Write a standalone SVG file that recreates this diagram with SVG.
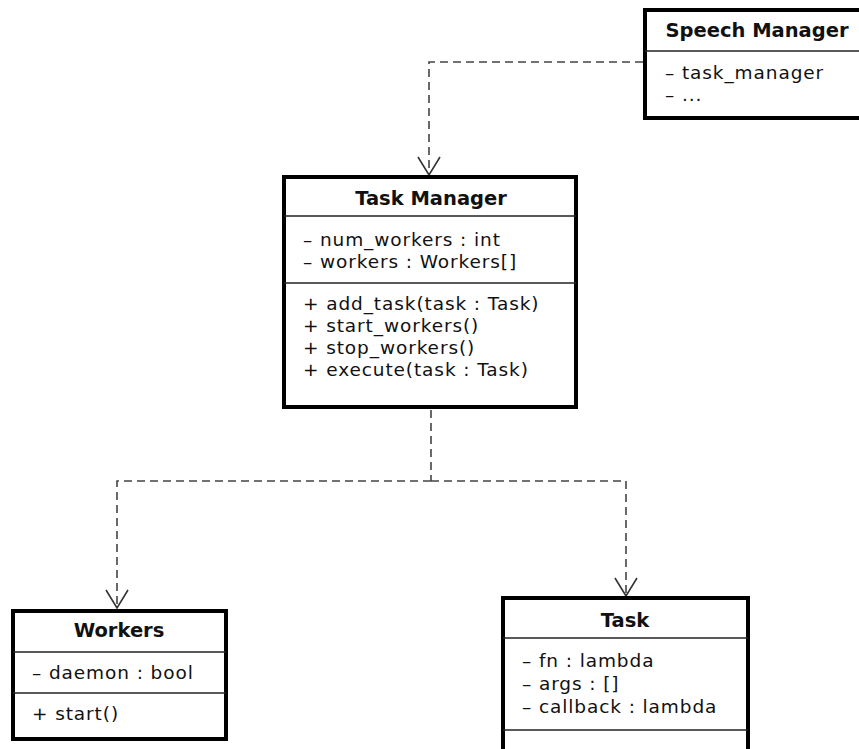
<svg xmlns="http://www.w3.org/2000/svg" width="859" height="749" viewBox="0 0 859 749">
<defs>
<style>
.box{fill:#fff;stroke:#000;stroke-width:4}
.div{stroke:#222;stroke-width:1.5}
.title{font-family:"DejaVu Sans",Verdana,sans-serif;font-weight:bold;font-size:19.5px;fill:#111;text-anchor:middle}
.txt{font-family:"DejaVu Sans",Verdana,sans-serif;font-size:18.5px;letter-spacing:0.9px;fill:#111}
.dep{fill:none;stroke:#444;stroke-width:1.6;stroke-dasharray:8 5}
</style>
<marker id="open" markerUnits="userSpaceOnUse" viewBox="-20 -13 22 26" refX="0" refY="0" markerWidth="22" markerHeight="26" orient="auto">
<path d="M-18,-11 L0,0 L-18,11" fill="none" stroke="#333" stroke-width="1.6"/>
</marker>
</defs>
<rect width="859" height="749" fill="#fff"/>
<g id="connectors">
<path class="dep" d="M643,62 H429 V175" marker-end="url(#open)"/>
<path class="dep" d="M431,410 V481"/>
<path class="dep" d="M431,481 H117 V608" marker-end="url(#open)"/>
<path class="dep" d="M431,481 H626 V596" marker-end="url(#open)"/>
</g>
<g id="speech-manager">
<rect class="box" x="645" y="10" width="230" height="108"/>
<line class="div" x1="645" y1="51" x2="875" y2="51"/>
<text class="title" x="757" y="37">Speech Manager</text>
<text class="txt" x="665" y="79">– task_manager</text>
<text class="txt" x="665" y="101">– ...</text>
</g>
<g id="task-manager">
<rect class="box" x="284" y="177" width="292" height="230"/>
<line class="div" x1="284" y1="216" x2="576" y2="216"/>
<line class="div" x1="284" y1="283" x2="576" y2="283"/>
<text class="title" x="431" y="205">Task Manager</text>
<text class="txt" x="303" y="246">– num_workers : int</text>
<text class="txt" x="303" y="268">– workers : Workers[]</text>
<text class="txt" x="303" y="310">+ add_task(task : Task)</text>
<text class="txt" x="303" y="332">+ start_workers()</text>
<text class="txt" x="303" y="354">+ stop_workers()</text>
<text class="txt" x="303" y="376">+ execute(task : Task)</text>
</g>
<g id="workers">
<rect class="box" x="13" y="611" width="213" height="128"/>
<line class="div" x1="13" y1="652" x2="226" y2="652"/>
<line class="div" x1="13" y1="693" x2="226" y2="693"/>
<text class="title" x="119" y="637">Workers</text>
<text class="txt" x="32" y="679">– daemon : bool</text>
<text class="txt" x="32" y="720">+ start()</text>
</g>
<g id="task">
<rect class="box" x="503" y="598" width="245" height="170"/>
<line class="div" x1="503" y1="638" x2="748" y2="638"/>
<line class="div" x1="503" y1="730" x2="748" y2="730"/>
<text class="title" x="625" y="627">Task</text>
<text class="txt" x="522" y="667">– fn : lambda</text>
<text class="txt" x="522" y="690">– args : []</text>
<text class="txt" x="522" y="713">– callback : lambda</text>
</g>
</svg>
